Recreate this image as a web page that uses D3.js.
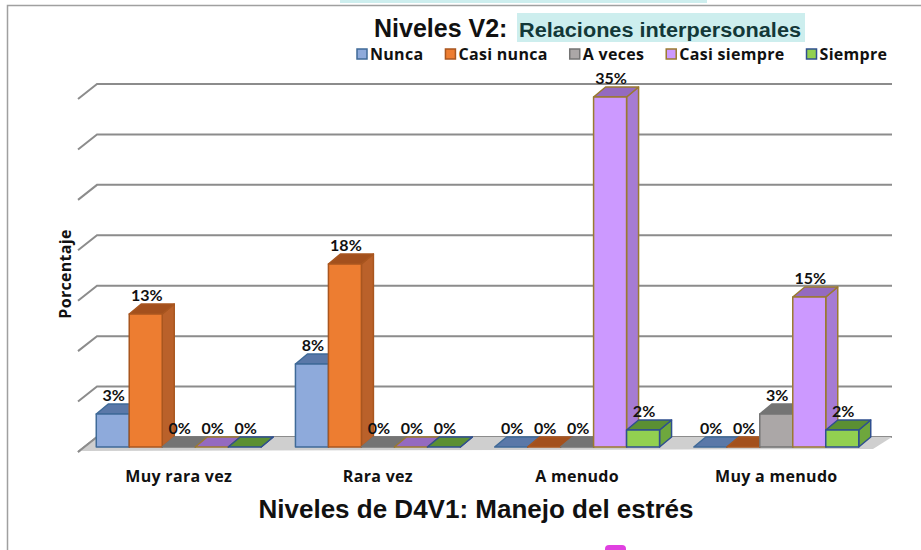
<!DOCTYPE html>
<html>
  <head>
    <style>
      body {
        margin: 0;
        background: #fff;
      }
      .lbl {
        font-family: Lato, "Open Sans", sans-serif;
        font-weight: bold;
        fill: #111;
      }
      .wide {
        font-family: "Open Sans", Lato, sans-serif;
        font-weight: bold;
        letter-spacing: 0.3px;
        fill: #111;
      }
      .grid {
        fill: none;
        stroke: #8c8c8c;
        stroke-width: 2px;
      }
    </style>
  </head>
  <body>
    <script src="https://d3js.org/d3.v7.min.js"></script>
    <script>
      // categories on the x axis and the five answer levels (legend)
      var categories = ["Muy rara vez", "Rara vez", "A menudo", "Muy a menudo"];
      var seriesNames = ["Nunca", "Casi nunca", "A veces", "Casi siempre", "Siempre"];
      // percentages per series, one value per category
      var nunca = [3.3, 8.3, 0, 0];
      var casiNunca = [13.3, 18.3, 0, 0];
      var aVeces = [0, 0, 0, 3.3];
      var casiSiempre = [0, 0, 35, 15];
      var siempre = [0, 0, 1.7, 1.7];
      var yTicks = [0, 5, 10, 15, 20, 25, 30, 35];

      var seriesValues = [nunca, casiNunca, aVeces, casiSiempre, siempre];

      // colours: front, top, side, outline
      var colors = {
        "Nunca":        {front: "#8eaadb", top: "#5a78a8", side: "#6f8cc0", stroke: "#3f6a98"},
        "Casi nunca":   {front: "#ed7d31", top: "#a3501d", side: "#ba612a", stroke: "#a9561f"},
        "A veces":      {front: "#aba7a7", top: "#747474", side: "#8a8a8a", stroke: "#747474"},
        "Casi siempre": {front: "#cc99ff", top: "#946ac0", side: "#a67bd3", stroke: "#9a7a30"},
        "Siempre":      {front: "#92d050", top: "#5b8f33", side: "#6ea73d", stroke: "#2f4f8f"}
      };

      var W = 921, H = 550;
      var svg = d3.select("body").append("svg")
        .attr("width", W)
        .attr("height", H);

      // bits of the surrounding page
      svg.append("rect").attr("x", 340).attr("y", 0).attr("width", 367).attr("height", 3).attr("fill", "#cdeeee");
      svg.append("rect").attr("x", 605).attr("y", 545).attr("width", 21).attr("height", 10).attr("rx", 4).attr("fill", "#e040e0");

      // frame
      svg.append("path")
        .attr("d", "M7.5,552 V5.5 H921")
        .attr("fill", "none")
        .attr("stroke", "#a0a0a0")
        .attr("stroke-width", 1.5);

      var x0 = d3.scaleBand()
        .domain(categories)
        .range([62, 893])
        .paddingInner(0.172)
        .paddingOuter(0.172);
      var x1 = d3.scaleBand()
        .domain(seriesNames)
        .range([0, x0.bandwidth()]);
      // front faces of the bars
      var y = d3.scaleLinear().domain([0, 35]).range([447, 97]);
      // back wall
      var yWall = d3.scaleLinear().domain([0, 35]).range([437, 84]);

      var depthX = 12, depthY = 10;   // bar depth
      var wallX = 19, wallY = 15;     // floor depth

      // wall gridlines
      var grid = svg.append("g");
      grid.selectAll("path")
        .data(yTicks)
        .enter().append("path")
          .attr("class", "grid")
          .attr("d", function(t) {
            var yy = yWall(t);
            return "M" + (97 - wallX) + "," + (yy + wallY) + " L97," + yy + " H892";
          });

      // floor
      svg.append("path")
        .attr("d", "M78,451 L873,449 L892,437 L97,437 Z")
        .attr("fill", "#cfcfcf");
      svg.append("path")
        .attr("class", "grid")
        .attr("d", "M78,452 L97,437");

      // bars
      var rows = [];
      categories.forEach(function(c, i) {
        seriesNames.forEach(function(s, j) {
          rows.push({cat: c, series: s, value: seriesValues[j][i]});
        });
      });

      var bars = svg.append("g");
      rows.forEach(function(d) {
        var c = colors[d.series];
        var bx = x0(d.cat) + x1(d.series);
        var bw = x1.bandwidth();
        var top = y(d.value), base = y(0);
        var g = bars.append("g")
          .attr("stroke", c.stroke)
          .attr("stroke-width", 1.5)
          .attr("stroke-linejoin", "round");
        // side
        g.append("path")
          .attr("fill", c.side)
          .attr("d", "M" + (bx + bw) + "," + base + " L" + (bx + bw + depthX) + "," + (base - depthY) +
            " L" + (bx + bw + depthX) + "," + (top - depthY) + " L" + (bx + bw) + "," + top + " Z");
        // top
        g.append("path")
          .attr("fill", c.top)
          .attr("d", "M" + bx + "," + top + " L" + (bx + depthX) + "," + (top - depthY) +
            " L" + (bx + bw + depthX) + "," + (top - depthY) + " L" + (bx + bw) + "," + top + " Z");
        // front
        if (d.value > 0) {
          g.append("rect")
            .attr("fill", c.front)
            .attr("x", bx)
            .attr("y", top)
            .attr("width", bw)
            .attr("height", base - top);
        }
      });

      // value labels
      svg.append("g").selectAll("text")
        .data(rows)
        .enter().append("text")
          .attr("class", "lbl")
          .attr("font-size", 16)
          .attr("text-anchor", "middle")
          .attr("x", function(d) { return x0(d.cat) + x1(d.series) + x1.bandwidth() / 2 + 1; })
          .attr("y", function(d) { return y(d.value) - 13; })
          .text(function(d) { return Math.round(d.value) + "%"; });

      // category labels
      svg.append("g").selectAll("text")
        .data(categories)
        .enter().append("text")
          .attr("class", "wide")
          .attr("font-size", 16)
          .attr("text-anchor", "middle")
          .attr("x", function(d) { return x0(d) + x0.bandwidth() / 2; })
          .attr("y", 482)
          .text(function(d) { return d; });

      // axis titles
      svg.append("text")
        .attr("x", 476)
        .attr("y", 518)
        .attr("text-anchor", "middle")
        .attr("font-family", "'Liberation Sans', Arial, sans-serif")
        .attr("font-weight", "bold")
        .attr("font-size", 26)
        .attr("fill", "#111")
        .text("Niveles de D4V1: Manejo del estrés");

      svg.append("text")
        .attr("class", "wide")
        .attr("font-size", 16)
        .attr("text-anchor", "middle")
        .attr("transform", "translate(71,274) rotate(-90)")
        .text("Porcentaje");

      // chart title
      svg.append("text")
        .attr("x", 374)
        .attr("y", 37)
        .attr("font-family", "'Liberation Sans', Arial, sans-serif")
        .attr("font-weight", "bold")
        .attr("font-size", 25)
        .attr("fill", "#111")
        .text("Niveles V2:");
      svg.append("rect")
        .attr("x", 517)
        .attr("y", 13)
        .attr("width", 288)
        .attr("height", 29)
        .attr("fill", "#cdeeee");
      svg.append("text")
        .attr("x", 519)
        .attr("y", 37)
        .attr("font-family", "'Liberation Sans', Arial, sans-serif")
        .attr("font-weight", "bold")
        .attr("font-size", 20)
        .attr("textLength", 282)
        .attr("lengthAdjust", "spacingAndGlyphs")
        .attr("fill", "#133838")
        .text("Relaciones interpersonales");

      // legend
      var legend = svg.append("g");
      var lx = 357;
      seriesNames.forEach(function(s) {
        var c = colors[s];
        legend.append("rect")
          .attr("x", lx)
          .attr("y", 49)
          .attr("width", 10)
          .attr("height", 10)
          .attr("fill", c.front)
          .attr("stroke", c.stroke)
          .attr("stroke-width", 1.5);
        var tx = legend.append("text")
          .attr("class", "wide")
          .attr("font-size", 16)
          .attr("x", lx + 13)
          .attr("y", 60)
          .text(s);
        lx += 13 + tx.node().getComputedTextLength() + 22;
      });
    </script>
  </body>
</html>
